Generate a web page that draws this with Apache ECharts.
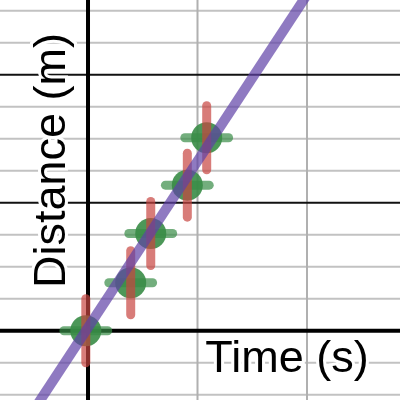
<!DOCTYPE html>
<html><head><meta charset="utf-8">
<script src="https://cdn.jsdelivr.net/npm/echarts@6/dist/echarts.min.js"></script>
<style>html,body{margin:0;padding:0;background:#fff}#c{width:400px;height:400px}</style>
</head><body><div id="c"></div>
<script>
// Measured data
const timeValues = [-0.02, 0.39, 0.573, 0.907, 1.084];
const distanceValues = [0, 1.5, 3.04, 4.55, 6.03];
const timeErrors = [0.2, 0.2, 0.2, 0.2, 0.2];
const distanceErrors = [1, 1, 1, 1, 1];
// Fit line endpoints
const fitLineTime = [-0.5, 2.0];
const fitLineDistance = [-2.5, 10.5];
// Grid lines
const minorYLines = [-2, -1, 1, 2, 3, 5, 6, 7, 9, 10];
const majorYLines = [4, 8];
const axisYValue = [0];
const minorXLines = [1, 2];
const axisXValue = [0];
const xLabel = 'Time (s)';
const yLabel = 'Distance (m)';

const FONT = '45px "Liberation Sans", Arial, sans-serif';

function hLineSeries(values, color, width, z) {
  return {
    type: 'custom', z: z, silent: true, clip: false,
    data: values.map(v => [0, v]),
    renderItem: function (params, api) {
      const cs = params.coordSys;
      const y = api.coord([0, api.value(1)])[1];
      return { type: 'line', shape: { x1: cs.x, y1: y, x2: cs.x + cs.width, y2: y },
        style: { stroke: color, lineWidth: width } };
    }
  };
}
function vLineSeries(values, color, width, z) {
  return {
    type: 'custom', z: z, silent: true, clip: false,
    data: values.map(v => [v, 0]),
    renderItem: function (params, api) {
      const cs = params.coordSys;
      const x = api.coord([api.value(0), 0])[0];
      return { type: 'line', shape: { x1: x, y1: cs.y, x2: x, y2: cs.y + cs.height },
        style: { stroke: color, lineWidth: width } };
    }
  };
}

const pointRows = timeValues.map((t, i) => [t, distanceValues[i], timeErrors[i], distanceErrors[i]]);

const chart = echarts.init(document.getElementById('c'));
chart.setOption({
  animation: false,
  backgroundColor: '#fff',
  grid: { left: 0, right: 0, top: 0, bottom: 0, containLabel: false },
  xAxis: { type: 'value', min: -0.8037, max: 2.8493, show: false },
  yAxis: { type: 'value', min: -2.164, max: 10.336, show: false },
  series: [
    hLineSeries(minorYLines, '#c2c2c2', 2, 1),
    vLineSeries(minorXLines, '#b0b0b0', 2, 1),
    hLineSeries(majorYLines, '#111', 2, 1),
    hLineSeries(axisYValue, '#000', 4, 1),
    vLineSeries(axisXValue, '#000', 4, 1),
    {
      type: 'custom', z: 3, silent: true,
      data: pointRows,
      renderItem: function (params, api) {
        const x = api.value(0), y = api.value(1), ex = api.value(2);
        const a = api.coord([x - ex, y]), b = api.coord([x + ex, y]);
        return { type: 'line', shape: { x1: a[0], y1: a[1], x2: b[0], y2: b[1] },
          style: { stroke: '#388c46', lineWidth: 9, lineCap: 'round', opacity: 0.7 } };
      }
    },
    {
      type: 'scatter', z: 4, silent: true,
      data: pointRows.map(r => [r[0], r[1]]),
      symbol: 'circle', symbolSize: 31,
      itemStyle: { color: '#388c46', opacity: 0.9 }
    },
    {
      type: 'custom', z: 5, silent: true,
      data: pointRows,
      renderItem: function (params, api) {
        const x = api.value(0), y = api.value(1), ey = api.value(3);
        const a = api.coord([x, y - ey]), b = api.coord([x, y + ey]);
        return { type: 'line', shape: { x1: a[0], y1: a[1], x2: b[0], y2: b[1] },
          style: { stroke: '#c74440', lineWidth: 9, lineCap: 'round', opacity: 0.7 } };
      }
    },
    {
      type: 'line', z: 6, silent: true,
      data: fitLineTime.map((t, i) => [t, fitLineDistance[i]]),
      showSymbol: false, symbol: 'none',
      lineStyle: { color: '#6042a6', width: 10, opacity: 0.7 }
    }
  ],
  graphic: [
    {
      type: 'text', x: 287, y: 359.5, z: 100,
      style: { text: xLabel, font: FONT, fill: '#000', stroke: '#fff', lineWidth: 6, strokeFirst: true,
        align: 'center', verticalAlign: 'middle', textAlign: 'center', textVerticalAlign: 'middle' }
    },
    {
      type: 'text', x: 52.5, y: 160.5, rotation: Math.PI / 2, z: 100,
      style: { text: yLabel, font: FONT, fill: '#000', stroke: '#fff', lineWidth: 6, strokeFirst: true,
        align: 'center', verticalAlign: 'middle', textAlign: 'center', textVerticalAlign: 'middle' }
    }
  ]
});
</script></body></html>
